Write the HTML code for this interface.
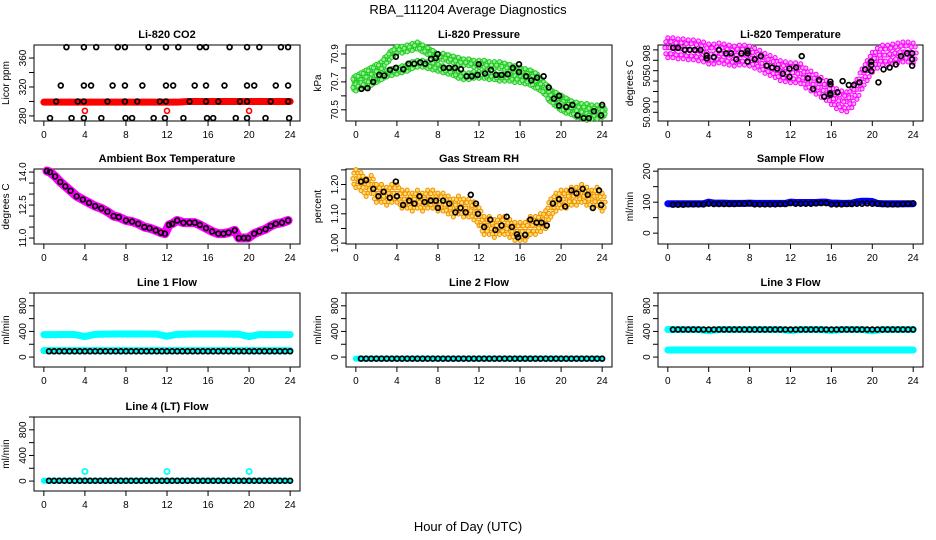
<!DOCTYPE html>
<html><head><meta charset="utf-8"><style>
body{margin:0;background:#fff}
svg{display:block;font-family:"Liberation Sans",sans-serif}
.t{font-size:11px;font-weight:bold;text-anchor:middle}
.tk{font-size:10px;text-anchor:middle}
</style></head><body>
<svg id="c" width="936" height="540" viewBox="0 0 936 540" xmlns="http://www.w3.org/2000/svg">
<text x="468" y="14" font-size="13" text-anchor="middle">RBA_111204  Average Diagnostics</text>
<text x="468" y="531" font-size="13" text-anchor="middle">Hour of Day (UTC)</text>
</svg>
<script>
const xTicks=[0,4,8,12,16,20,24];
const co2Hours=[2.2,3.9,5.1,7.2,7.9,10.2,11.9,13.1,15.2,15.8,18.1,19.8,21.0,23.1,23.8,1.65,3.9,4.6,6.7,7.9,9.6,11.9,12.6,14.7,15.8,17.6,19.8,20.5,22.6,23.8,1.2,3.3,3.9,6.2,7.9,9.1,11.3,11.9,14.2,15.8,17.0,19.1,19.8,22.1,23.8,0.6,2.7,3.9,5.6,7.96,8.6,10.7,11.8,13.6,15.9,16.5,18.7,19.8,21.6,23.9];
const co2Values=[375,375,375,375,375,375,375,375,375,375,375,375,375,375,375,322,322,322,322,322,322,322,322,322,322,322,322,322,322,322,300,300,300,300,300,300,300,300,300,300,300,300,300,300,300,277,277,277,277,277,277,277,277,277,277,277,277,277,277,277];
const co2RedHours=[0,1,2,3,4,5,6,7,8,9,10,11,12,13,14,15,16,17,18,19,20,21,22,23,24];
const co2RedValues=[299,299,299,299,299,299,299,299,299,299,299,299,299,299,300,300,300,300,300,300,300,300,300,300,300];
const co2SpikeHours=[4,12,20];
const co2SpikeValues=[287,287,287];
const presHours=[0.55,1.14,1.69,2.28,2.77,3.32,3.9,3.9,4.62,5.14,5.69,6.28,6.76,7.32,7.8,7.97,8.55,9.1,9.66,10.24,10.8,11.3,11.87,11.97,12.59,13.17,13.66,14.2,14.8,15.3,15.9,15.9,16.6,17.1,17.66,18.3,18.8,19.3,19.8,19.8,20.5,21.1,21.6,22.2,22.7,23.2,23.9,24.0];
const presValues=[70.65,70.655,70.70,70.75,70.745,70.786,70.80,70.88,70.79,70.83,70.83,70.84,70.83,70.864,70.87,70.898,70.80,70.80,70.80,70.79,70.74,70.74,70.75,70.826,70.76,70.786,70.75,70.75,70.755,70.80,70.826,70.77,70.74,70.71,70.73,70.74,70.66,70.58,70.53,70.60,70.52,70.535,70.46,70.44,70.44,70.49,70.46,70.535];
const presUpper=[70.72,70.74,70.76,70.78,70.8,70.82,70.86,70.9,70.93,70.93,70.94,70.95,70.96,70.94,70.92,70.9,70.88,70.88,70.87,70.86,70.85,70.84,70.84,70.83,70.83,70.83,70.82,70.82,70.82,70.81,70.8,70.79,70.78,70.77,70.76,70.74,70.7,70.66,70.62,70.6,70.58,70.56,70.54,70.53,70.52,70.52,70.51,70.51,70.5];
const presLower=[70.66,70.67,70.68,70.7,70.72,70.74,70.76,70.77,70.78,70.79,70.8,70.82,70.83,70.83,70.82,70.81,70.8,70.79,70.78,70.77,70.75,70.74,70.74,70.75,70.75,70.75,70.74,70.74,70.73,70.73,70.73,70.72,70.72,70.71,70.7,70.68,70.66,70.63,70.58,70.55,70.52,70.5,70.49,70.47,70.46,70.45,70.46,70.46,70.47];
const tempHours=[0.52,1.0,1.65,2.14,2.63,3.2,3.8,3.8,4.5,5.0,5.7,6.2,6.7,7.2,7.8,7.8,7.8,8.5,9.1,9.67,10.2,10.7,11.25,11.9,11.9,12.55,13.1,13.7,14.2,14.8,15.3,15.9,15.9,15.9,15.9,16.6,17.1,17.7,18.2,18.75,19.3,19.9,19.9,19.9,20.6,21.1,21.7,22.3,22.8,23.4,23.9,23.9,23.9];
const tempValues=[6.2,6.2,6.0,6.0,6.0,6.0,5.45,5.2,5.3,6.0,5.67,5.67,5.1,5.67,5.9,5.67,4.87,5.1,5.4,4.48,4.3,4.2,3.7,4.2,3.4,4.3,5.4,3.27,2.24,3.1,1.5,2.94,2.7,1.83,1.66,1.92,3.0,2.62,2.62,2.88,4.13,4.87,4.55,3.97,2.88,4.13,4.3,4.6,5.4,5.67,5.67,5.1,4.48];
const tempPink=[6.2,6.2,6.1,6.1,6.0,6.0,5.9,5.8,5.6,5.6,5.7,5.6,5.5,5.4,5.5,5.5,5.4,5.2,5.0,4.7,4.5,4.3,4.0,3.9,3.8,3.8,3.7,3.3,3.0,2.7,2.4,2.1,1.7,1.3,1.1,1.0,1.4,2.2,3.2,4.0,4.8,5.2,5.5,5.5,5.6,5.7,5.8,5.8,5.7];
const ambHours=[0.3,0.6,1.1,1.6,2.1,2.6,3.2,3.8,4.4,5.0,5.6,6.2,6.8,7.3,8.0,8.6,9.2,9.8,10.3,10.9,11.4,11.8,12.2,12.5,13.0,13.6,14.2,14.7,15.2,15.8,16.4,17.0,17.5,18.0,18.6,19.0,19.5,19.9,20.5,21.0,21.6,22.1,22.6,23.2,23.8];
const ambValues=[14.05,14.0,13.8,13.55,13.35,13.15,12.9,12.75,12.6,12.45,12.35,12.2,12.0,11.95,11.8,11.75,11.65,11.5,11.45,11.35,11.25,11.2,11.6,11.65,11.8,11.7,11.7,11.7,11.6,11.45,11.3,11.2,11.2,11.25,11.35,11.0,11.0,11.0,11.2,11.3,11.4,11.55,11.65,11.7,11.8];
const rhHours=[0.5,1.0,1.7,2.2,2.7,3.3,3.9,4.0,4.6,5.2,5.7,6.2,6.7,7.3,7.8,8.0,8.5,9.1,9.7,10.2,10.7,11.2,11.7,11.9,12.5,13.1,13.6,14.2,14.7,15.2,15.7,15.8,16.5,17.0,17.6,18.1,18.6,19.2,19.8,20.4,21.0,21.5,22.1,22.6,23.1,23.7,23.9];
const rhValues=[1.21,1.215,1.185,1.16,1.175,1.155,1.21,1.16,1.13,1.145,1.135,1.16,1.14,1.145,1.145,1.12,1.145,1.135,1.105,1.12,1.105,1.165,1.135,1.1,1.055,1.08,1.045,1.06,1.09,1.055,1.03,1.02,1.028,1.08,1.07,1.07,1.06,1.135,1.15,1.125,1.18,1.17,1.185,1.165,1.12,1.18,1.13];
const rhOrange=[1.22,1.21,1.19,1.2,1.17,1.17,1.16,1.17,1.17,1.15,1.15,1.14,1.15,1.14,1.15,1.15,1.14,1.14,1.13,1.12,1.13,1.12,1.12,1.11,1.09,1.06,1.06,1.05,1.06,1.06,1.05,1.04,1.04,1.04,1.06,1.06,1.07,1.08,1.12,1.14,1.15,1.15,1.16,1.16,1.17,1.16,1.15,1.16,1.14];
const sampleBlue=[95,95,95,95,95,95,95,95,100,97,97,97,96,96,96,96,97,96,96,96,96,96,96,96,100,99,99,99,99,99,100,100,97,97,96,96,97,101,103,103,102,96,95,95,95,95,95,95,95];
const sampleBlack=[92,92,92,93,93,93,93,95,94,94,94,94,94,95,95,96,93,93,93,93,93,94,94,97,95,95,95,95,96,97,97,93,93,93,94,94,95,95,96,95,95,94,93,93,93,94,95,96];
const line1Cyan=[350,350,352,352,320,355,358,360,360,360,360,358,325,355,358,360,360,360,358,356,320,352,350,350,350];
const line1CyanLow=[100,100,100,100,100,100,100,100,100,100,100,100,100,100,100,100,100,100,100,100,100,100,100,100,100];
const line1Black=[90,90,90,90,90,90,90,90,90,90,90,90,90,90,90,90,90,90,90,90,90,90,90,90,90,90,90,90,90,90,90,90,90,90,90,90,90,90,90,90,90,90,90,90,90,90,90,90];
const line2Cyan=[-25,-25,-25,-25,-25,-25,-25,-25,-25,-25,-25,-25,-25,-25,-25,-25,-25,-25,-25,-25,-25,-25,-25,-25,-25];
const line2Black=[-25,-25,-25,-25,-25,-25,-25,-25,-25,-25,-25,-25,-25,-25,-25,-25,-25,-25,-25,-25,-25,-25,-25,-25,-25,-25,-25,-25,-25,-25,-25,-25,-25,-25,-25,-25,-25,-25,-25,-25,-25,-25,-25,-25,-25,-25,-25,-25];
const line3Cyan=[430,430,430,430,410,430,430,430,430,430,430,430,415,430,430,430,415,430,430,430,410,430,430,430,430];
const line3CyanLow=[110,110,110,110,110,110,110,110,110,110,110,110,110,110,110,110,110,110,110,110,110,110,110,110,110];
const line3Black=[430,430,430,430,430,430,430,430,430,430,430,430,430,430,430,430,430,430,430,430,430,430,430,430,430,430,430,430,430,430,430,430,430,430,430,430,430,430,430,430,430,430,430,430,430,430,430,430];
const line4Cyan=[5,5,5,5,5,5,5,5,5,5,5,5,5,5,5,5,5,5,5,5,5,5,5,5,5];
const line4SpikeHours=[4,12,20];
const line4SpikeValues=[150,150,150];
const line4Black=[5,5,5,5,5,5,5,5,5,5,5,5,5,5,5,5,5,5,5,5,5,5,5,5,5,5,5,5,5,5,5,5,5,5,5,5,5,5,5,5,5,5,5,5,5,5,5,5];

const hourly=[];for(let i=0;i<=24;i++)hourly.push(i);
const half=[];for(let i=0;i<=48;i++)half.push(i/2);
const halfB=[];for(let i=1;i<=48;i++)halfB.push(i/2);

const NS="http://www.w3.org/2000/svg",svg=document.getElementById('c');
const X0=[34,346,658],X1=[300,612,923],Y0=[45,169,293,417],Y1=[121,244,367,491];
function mk(tag,at,par){const e=document.createElementNS(NS,tag);for(const k in at)e.setAttribute(k,at[k]);(par||svg).appendChild(e);return e;}
function panel(col,row,title,ylab,ymin,ymax,ticks,labels,name){
  const g=mk('g',{});
  
  
  const x0=X0[col],x1=X1[col],y0=Y0[row],y1=Y1[row];
  const sx=h=>x0+(h+0.96)/25.92*(x1-x0);
  const sy=v=>y1-(v-ymin)/(ymax-ymin)*(y1-y0);
  const b=mk('rect',{x:x0,y:y0,width:x1-x0,height:y1-y0,fill:'none',stroke:'#000','stroke-width':1},g);
  
  
  const t=mk('text',{x:(x0+x1)/2,y:y0-7,class:'t'},g);t.textContent=title;
  
  
  const yl=mk('text',{transform:`translate(${x0-25},${(y0+y1)/2}) rotate(-90)`,'font-size':10,'text-anchor':'middle'},g);yl.textContent=ylab;
  
  
  const ax=mk('g',{},g);
  
  
  mk('line',{x1:sx(0),x2:sx(24),y1:y1,y2:y1,stroke:'#000'},ax);
  xTicks.forEach(h=>{mk('line',{x1:sx(h),x2:sx(h),y1:y1,y2:y1+5,stroke:'#000'},ax);
    const l=mk('text',{x:sx(h),y:y1+17,class:'tk'},ax);l.textContent=h;});
  const ay=mk('g',{},g);
  
  
  ticks.forEach((v,i)=>{mk('line',{x1:x0,x2:x0-5,y1:sy(v),y2:sy(v),stroke:'#000'},ay);
    if(labels[i]!==''){const l=mk('text',{transform:`translate(${x0-8},${sy(v)}) rotate(-90)`,class:'tk'},ay);l.textContent=labels[i];}});
  const d=mk('g',{},g);
  
  
  return {sx,sy,d};
}
function circles(p,hs,vs,name,r,stroke,fill,sw){
  const g=mk('g',{},p.d);
  
  
  hs.forEach((h,i)=>mk('circle',{cx:p.sx(h),cy:p.sy(vs[i]),r:r,stroke:stroke,fill:fill,'stroke-width':sw},g));
}
const CL=[[0,0],[-2,-3],[2,3],[2,-3],[-2,3],[0,-5],[0,5],[-3,0],[3,0]];
function cloud(p,hs,vs,name,fill,stroke,sp){
  const g=mk('g',{},p.d);
  
  
  hs.forEach((h,i)=>CL.forEach(o=>mk('circle',{cx:p.sx(h)+o[0],cy:p.sy(vs[i])+o[1]*sp,r:2,fill:fill,stroke:stroke,'stroke-width':1},g)));
}
function band(p,hs,vs,name,color,w){
  const pl=mk('polyline',{points:hs.map((h,i)=>p.sx(h)+','+p.sy(vs[i])).join(' '),fill:'none',stroke:color,'stroke-width':w,'stroke-linejoin':'round','stroke-linecap':'round'},p.d);
  
  
}
const blk=(p,h,v,n)=>circles(p,h,v,n,2.4,'#000','none',1.7);

// CO2
let p=panel(0,0,'Li-820 CO2','Licor ppm',273,378,[280,300,320,340,360],['280','','320','','360'],'co2');
band(p,co2RedHours,co2RedValues,'co2-red-band','#f00',7);
circles(p,co2SpikeHours,co2SpikeValues,'co2-red-points',2.5,'#f00','none',1.6);
blk(p,co2Hours,co2Values,'co2-black-points');
// Pressure
p=panel(1,0,'Li-820 Pressure','kPa',70.42,70.964,[70.5,70.6,70.7,70.8,70.9],['70.5','','70.7','','70.9'],'pressure');
cloud(p,half,presUpper,'pressure-green-upper','#9af09a','#22cc22',0.7);
cloud(p,half,presLower,'pressure-green-lower','#9af09a','#22cc22',0.7);
blk(p,presHours,presValues,'pressure-black-points');
// Temperature
p=panel(2,0,'Li-820 Temperature','degrees C',-0.84,6.47,[0,1,2,3,4,5,6],['50.900','','','50','','50.908',''],'li820-temp');
cloud(p,half,tempPink,'temp-magenta-cloud','#ffb0ff','#f0f',2.0);
blk(p,tempHours,tempValues,'temp-black-points');
// Ambient
p=panel(0,1,'Ambient Box Temperature','degrees C',10.73,14.14,[11,11.5,12,12.5,13,13.5,14],['11.0','','','12.5','','','14.0'],'ambient');
band(p,ambHours,ambValues,'ambient-magenta-band','#f0f',9);
blk(p,ambHours,ambValues,'ambient-black-points');
// RH
p=panel(1,1,'Gas Stream RH','percent',0.997,1.253,[1.0,1.05,1.1,1.15,1.2,1.25],['1.00','','1.10','','1.20',''],'rh');
cloud(p,half,rhOrange,'rh-orange-cloud','#ffe070','#f09000',1.8);
blk(p,rhHours,rhValues,'rh-black-points');
// Sample flow
p=panel(2,1,'Sample Flow','ml/min',-35,207,[0,50,100,150,200],['0','','100','','200'],'sample-flow');
band(p,half,sampleBlue,'sample-blue-band','#0000ff',7);
blk(p,halfB,sampleBlack,'sample-black-points');
// Line flows
const fT=[0,200,400,600,800,1000],fL=['0','','400','','800',''];
p=panel(0,2,'Line 1 Flow','ml/min',-155,1000,fT,fL,'line1');
band(p,hourly,line1Cyan,'line1-cyan-upper','#00ffff',7);
band(p,hourly,line1CyanLow,'line1-cyan-lower','#00ffff',7);
blk(p,halfB,line1Black,'line1-black-points');
p=panel(1,2,'Line 2 Flow','ml/min',-155,1000,fT,fL,'line2');
band(p,hourly,line2Cyan,'line2-cyan','#00ffff',6);
blk(p,halfB,line2Black,'line2-black-points');
p=panel(2,2,'Line 3 Flow','ml/min',-155,1000,fT,fL,'line3');
band(p,hourly,line3Cyan,'line3-cyan-upper','#00ffff',7);
band(p,hourly,line3CyanLow,'line3-cyan-lower','#00ffff',7);
blk(p,halfB,line3Black,'line3-black-points');
p=panel(0,3,'Line 4 (LT) Flow','ml/min',-155,1000,fT,fL,'line4');
band(p,hourly,line4Cyan,'line4-cyan','#00ffff',6);
circles(p,line4SpikeHours,line4SpikeValues,'line4-cyan-spikes',2.6,'#00ffff','none',1.8);
blk(p,halfB,line4Black,'line4-black-points');
</script>
</body></html>
